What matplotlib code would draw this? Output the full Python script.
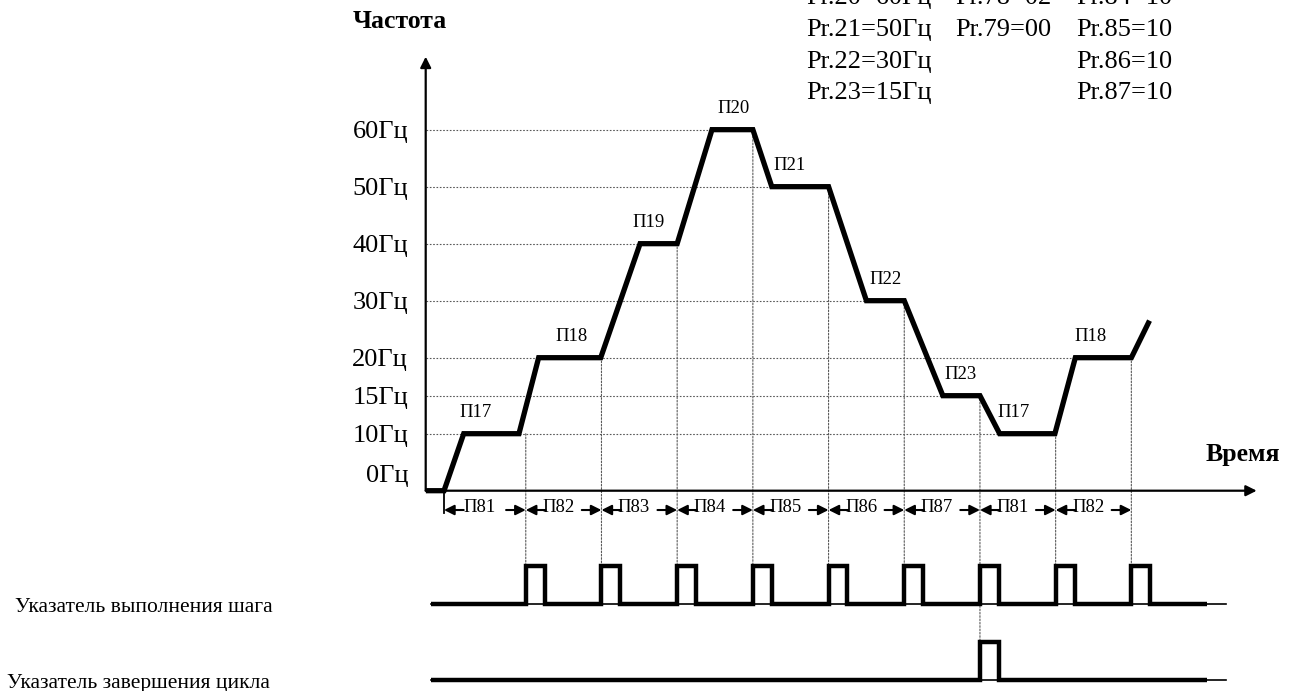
import numpy as np
import matplotlib
matplotlib.use("Agg")
import matplotlib.pyplot as plt
from matplotlib.patches import ConnectionPatch

plt.rcParams["font.family"] = ["Liberation Serif", "DejaVu Serif"]

# frequency levels on the (non uniform) vertical axis
FREQ_LEVELS = [0, 10, 15, 20, 30, 40, 50, 60]
LEVEL_SLOTS = [0, 1, 5 / 3, 7 / 3, 10 / 3, 13 / 3, 16 / 3, 19 / 3]
FREQ_LABELS = [f"{v}Гц" for v in FREQ_LEVELS]

# speed profile (time units, Hz)
CURVE_T = [-2.4, 0, 2.6, 9.9, 12.5, 20.7, 25.9, 30.8, 35.4, 40.8, 43.3,
           50.8, 55.8, 60.8, 65.9, 70.8, 73.4, 80.7, 83.4, 90.8, 93.2]
CURVE_F = [0, 0, 10, 10, 20, 20, 40, 40, 60, 60, 50,
           50, 30, 30, 15, 15, 10, 10, 20, 20, 26.5]

# step boundaries and steps
BOUNDARIES = [0, 10.8, 20.8, 30.8, 40.8, 50.8, 60.8, 70.8, 80.8, 90.8]
STEP_LEVELS = [10, 20, 40, 60, 50, 30, 15, 10, 20]
STEP_NAMES = ["П17", "П18", "П19", "П20", "П21", "П22", "П23", "П17", "П18"]
STEP_TIMES = ["П81", "П82", "П83", "П84", "П85", "П86", "П87", "П81", "П82"]

# output signals
STEP_PULSES = BOUNDARIES[1:]
CYCLE_PULSES = [70.8]
SIGNAL_NAMES = ["Указатель выполнения шага", "Указатель завершения цикла"]

PARAM_ROWS = [
    ["Pr.20=60Гц", "Pr.78=02", "Pr.84=10"],
    ["Pr.21=50Гц", "Pr.79=00", "Pr.85=10"],
    ["Pr.22=30Гц", "", "Pr.86=10"],
    ["Pr.23=15Гц", "", "Pr.87=10"],
]

# layout (pixels of the 1290x691 picture)
W, H = 1290, 691
STEP_LABEL_T = [4.2, 16.9, 27.0, 38.2, 45.7, 58.3, 68.3, 75.2, 85.4]
PULSE_WIDTH = 2.5
SIG_START, SIG_END, LINE_END = -1.7, 100.8, 103.3
ARROW_LEN = 2.6
ARROW_Y, TEXT_Y = -0.0445, -0.0484
DOT = dict(color="0.35", lw=0.8, linestyle=(0, (1.5, 1.5)))


def fx(px):
    return px / W


def fy(py):
    return 1 - py / H


def _extrap(v, xs, ys):
    v = np.asarray(v, dtype=float)
    out = np.interp(v, xs, ys)
    lo = (ys[1] - ys[0]) / (xs[1] - xs[0])
    hi = (ys[-1] - ys[-2]) / (xs[-1] - xs[-2])
    out = np.where(v < xs[0], ys[0] + (v - xs[0]) * lo, out)
    out = np.where(v > xs[-1], ys[-1] + (v - xs[-1]) * hi, out)
    return out


def to_slot(f):
    return _extrap(f, FREQ_LEVELS, LEVEL_SLOTS)


def from_slot(s):
    return _extrap(s, LEVEL_SLOTS, FREQ_LEVELS)


def pulse_train(starts, width, t0, t1):
    xs, ys = [t0], [0]
    for s in starts:
        xs += [s, s, s + width, s + width]
        ys += [0, 1, 1, 0]
    xs.append(t1)
    ys.append(0)
    return np.array(xs), np.array(ys, dtype=float)


fig = plt.figure(figsize=(12.9, 6.91), dpi=100)

ax = fig.add_axes([fx(425.7), fy(490.7), fx(1256.7) - fx(425.7), fy(56.7) - fy(490.7)])
ax.set_yscale("function", functions=(to_slot, from_slot))
ax.set_xlim(-2.42, 107.36)
ax.set_ylim(0, 72.8)
ax.set_xticks([])
ax.set_yticks([])
ax.patch.set_visible(False)
for sp in ax.spines.values():
    sp.set_visible(False)

arrow_kw = dict(arrowstyle="-|>", color="k", lw=1.6, mutation_scale=16, shrinkA=0, shrinkB=0)
ax.annotate("", xy=(1, 0), xytext=(0, 0), xycoords="axes fraction", arrowprops=arrow_kw)
ax.annotate("", xy=(0, 1), xytext=(0, 0), xycoords="axes fraction", arrowprops=arrow_kw)

T = np.array(CURVE_T)
F = np.array(CURVE_F)

# frequency labels and dotted guide lines
ytrans = ax.get_yaxis_transform()
for lv, lab in zip(FREQ_LEVELS, FREQ_LABELS):
    lift = 12.3 if lv == 0 else 0
    ax.annotate(lab, (0, lv), xycoords=ytrans, xytext=(-12.7, lift), textcoords="offset points",
                ha="right", va="center_baseline", fontsize=19)
    if lv == 0:
        continue
    idx = np.where((F[:-1] == lv) & (F[1:] == lv))[0]
    ax.plot([ax.get_xlim()[0], T[idx[-1]]], [lv, lv], zorder=1, **DOT)

ax.plot(T, F, color="k", lw=3.8, solid_joinstyle="miter", solid_capstyle="butt",
        clip_on=False, zorder=3)

for name, lv, tx in zip(STEP_NAMES, STEP_LEVELS, STEP_LABEL_T):
    ax.annotate(name, (tx, lv), xytext=(0, 12.2), textcoords="offset points",
                ha="center", va="baseline", fontsize=13.5)

# step durations under the time axis
xtrans = ax.get_xaxis_transform()
small_arrow = dict(arrowstyle="-|>", color="k", lw=1.5, mutation_scale=15, shrinkA=0, shrinkB=0)
ax.plot([BOUNDARIES[0]] * 2, [0, TEXT_Y - 0.004], transform=xtrans, color="k", lw=1.3, clip_on=False)
for i, name in enumerate(STEP_TIMES):
    b0, b1 = BOUNDARIES[i], BOUNDARIES[i + 1]
    ax.annotate("", xy=(b0, ARROW_Y), xytext=(b0 + ARROW_LEN, ARROW_Y), xycoords=xtrans,
                arrowprops=small_arrow)
    ax.annotate("", xy=(b1, ARROW_Y), xytext=(b1 - ARROW_LEN, ARROW_Y), xycoords=xtrans,
                arrowprops=small_arrow)
    ax.text((b0 + b1) / 2 - 0.7, TEXT_Y, name, transform=xtrans, ha="center", va="baseline",
            fontsize=13.5)

# signal traces
ax2 = fig.add_axes([fx(425.7), 0, fx(1256.7) - fx(425.7), fy(540)])
ax2.set_xlim(ax.get_xlim())
ax2.set_ylim(-11 / 76, 140 / 76)
ax2.axis("off")

for base, starts in [(1, STEP_PULSES), (0, CYCLE_PULSES)]:
    xs, ys = pulse_train(starts, PULSE_WIDTH, SIG_START, SIG_END)
    ax2.plot([SIG_START, LINE_END], [base, base], color="k", lw=1.2)
    ax2.plot(xs, base + 0.5 * ys, color="k", lw=3.2, solid_joinstyle="miter", solid_capstyle="butt")

for b, lv in zip(STEP_PULSES, STEP_LEVELS):
    end = 0.5 if b in CYCLE_PULSES else 1.5
    con = ConnectionPatch(xyA=(b, lv), coordsA=ax.transData, xyB=(b, end), coordsB=ax2.transData,
                          zorder=-1, **DOT)
    fig.add_artist(con)

fig.text(fx(15), fy(611.7), SIGNAL_NAMES[0], fontsize=15.5, va="baseline")
fig.text(fx(7), fy(688), SIGNAL_NAMES[1], fontsize=15.5, va="baseline")

fig.text(fx(352.7), fy(28), "Частота", fontsize=18.5, fontweight="bold", va="baseline")
fig.text(fx(1280), fy(461), "Время", fontsize=18.5, fontweight="bold", va="baseline", ha="right")

col_x = [806.7, 955.7, 1076]
for r, row in enumerate(PARAM_ROWS):
    for c, s in enumerate(row):
        if s:
            fig.text(fx(col_x[c]), fy(4.3 + 31.67 * r), s, fontsize=19, va="baseline")

fig.savefig("out.png", dpi=100)
